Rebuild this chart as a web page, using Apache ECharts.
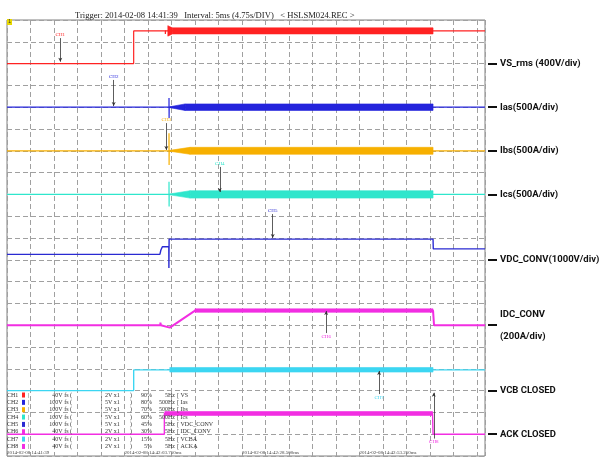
<!DOCTYPE html>
<html><head><meta charset="utf-8">
<script src="https://cdn.jsdelivr.net/npm/echarts@6/dist/echarts.min.js"></script>
<style>html,body{margin:0;padding:0;background:#fff}#c{width:603px;height:459px}</style>
</head><body><div id="c"></div>
<script>
// Recorder capture: time axis in seconds from trigger (4.75 s per division),
// vertical axis in screen divisions (0 = bottom, 20 = top).
const T_MAX = 96.6;
const SEC_PER_DIV = 4.75;

const stampTimes = [0, 23.75, 47.5, 71.25];
const stampLabels = ['2014-02-08 14:41:39', '2014-02-08 14:42:03.750ms', '2014-02-08 14:42:28.500ms', '2014-02-08 14:42:53.250ms'];

// channel traces [t, div]
const vsRms = [[0,18],[25.6,18],[25.6,19.5],[32.0,19.5],[32.0,19.36],[32.05,19.5],[96.6,19.5]];
const ias   = [[0,16],[31.5,16],[31.5,16.08],[31.55,16],[32.74,16],[32.74,16.42],[32.76,15.5],[32.78,16],[96.6,16]];
const ibs   = [[0,14],[31.6,14],[31.6,14.08],[31.65,14],[32.74,14],[32.74,14.8],[32.76,13.35],[32.78,14],[96.6,14]];
const ics   = [[0,12],[31.6,12],[31.6,12.08],[31.65,12],[32.74,12],[32.74,12.58],[32.76,11.44],[32.78,12],[96.6,12]];
const vdc   = [[0,9.25],[30.9,9.25],[31.1,9.45],[31.4,9.6],[32.7,9.6],[32.72,8.62],[32.76,9.95],[86.1,9.95],[86.15,9.5],[96.6,9.5]];
const idc   = [[0,6],[31.0,6],[31.0,6.12],[31.1,6],[32.9,5.89],[38,6.67],[86.1,6.67],[86.3,6.0],[96.6,6.0]];
const vcb   = [[0,3],[25.6,3],[25.6,3.95],[96.6,3.95]];
const ack   = [[0,1],[31.8,1],[31.8,1.95],[86.0,1.95],[86.1,1.0],[96.6,1.0]];

// oscillation envelopes [t, low, high]
const vsRmsBand = [[32.5,19.26,19.74],[33.4,19.36,19.64],[86.1,19.36,19.64]];
const iasBand   = [[32.9,15.98,16.02],[36.0,15.85,16.15],[86.1,15.85,16.15]];
const ibsBand   = [[32.9,13.98,14.02],[37.0,13.84,14.16],[86.1,13.84,14.16]];
const icsBand   = [[32.9,11.98,12.02],[37.0,11.83,12.17],[86.1,11.83,12.17]];
const idcBand   = [[38.0,6.59,6.75],[86.1,6.59,6.75]];
const vcbBand   = [[32.9,3.85,4.06],[86.1,3.85,4.06]];
const ackBand   = [[31.9,1.86,2.04],[86.0,1.86,2.04]];

// channel cursors: time, label end, trace end
const cursorNames = ['CH1','CH2','CH3','CH4','CH5','CH6','CH7','CH8'];
const cursorT     = [10.77, 21.56, 32.2, 43.0, 53.7, 64.5, 75.2, 86.25];
const cursorFrom  = [19.17, 17.25, 15.27, 13.26, 11.1, 5.64, 2.84, 0.8];
const cursorTo    = [18.09, 16.05, 14.04, 12.11, 10.0, 6.65, 3.9, 2.9];

// right-hand channel captions
const captionLevels = [18, 16, 14, 12, 9, 6, 3, 1];
const captionTexts  = ['VS_rms (400V/div)', 'Ias(500A/div)', 'Ibs(500A/div)', 'Ics(500A/div)', 'VDC_CONV(1000V/div)', 'IDC_CONV\n(200A/div)', 'VCB CLOSED', 'ACK CLOSED'];

// channel setup table
const tableRange = ['40V fs (', '100V fs (', '100V fs (', '100V fs (', '100V fs (', '40V fs (', '40V fs (', '40V fs ('];
const tableScale = ['2V x1', '5V x1', '5V x1', '5V x1', '5V x1', '2V x1', '2V x1', '2V x1'];
const tablePos   = ['90%', '80%', '70%', '60%', '45%', '30%', '15%', '5%'];
const tableFreq  = ['5Hz', '500Hz', '500Hz', '500Hz', '5Hz', '5Hz', '5Hz', '5Hz'];
const tableTag   = ['VS', 'Ias', 'Ibs', 'Ics', 'VDC_CONV', 'IDC_CONV', 'VCBA', 'ACKA'];

const colors = ['#ff2222', '#2424dc', '#f7b000', '#2fe6cc', '#2a2ad2', '#f22ee2', '#3cd6f2', '#f22ee2'];

const traces = [vsRms, ias, ibs, ics, vdc, idc, vcb, ack];
const bands = [vsRmsBand, iasBand, ibsBand, icsBand, null, idcBand, vcbBand, ackBand];
const traceWidths = [1.2, 1.2, 1.2, 1.2, 1.4, 2, 1.4, 1.4];

// envelope polygon between consecutive envelope samples
function bandRenderer(color) {
  return function (params, api) {
    const a0 = api.coord([api.value(0), api.value(1)]);
    const a1 = api.coord([api.value(0), api.value(2)]);
    const b0 = api.coord([api.value(3), api.value(4)]);
    const b1 = api.coord([api.value(3), api.value(5)]);
    return {
      type: 'polygon',
      shape: { points: [a0, b0, b1, a1] },
      style: { fill: color, stroke: color, lineWidth: 0.6 }
    };
  };
}

const series = [];
traces.forEach((d, i) => {
  series.push({
    type: 'line', data: d, symbol: 'none', silent: true,
    lineStyle: { color: colors[i], width: traceWidths[i] }, z: 3
  });
  const b = bands[i];
  if (b) {
    const segs = [];
    for (let k = 0; k + 1 < b.length; k++) {
      segs.push([b[k][0], b[k][1], b[k][2], b[k + 1][0], b[k + 1][1], b[k + 1][2]]);
    }
    series.push({
      type: 'custom', data: segs, silent: true, z: 4,
      encode: { x: [0, 3], y: [1, 2, 4, 5] },
      renderItem: bandRenderer(colors[i])
    });
  }
});

// cursor markers drawn on an empty carrier series
series.push({
  type: 'line', data: [], silent: true, z: 5,
  markLine: {
    silent: true, animation: false,
    symbol: ['none', 'arrow'], symbolSize: [3, 4],
    lineStyle: { color: '#333', width: 0.8, type: 'solid' },
    label: { show: true, position: 'start', distance: 1, fontSize: 5, fontFamily: 'Liberation Serif', formatter: p => p.name },
    data: cursorNames.map((n, i) => [
      { name: n, coord: [cursorT[i], cursorFrom[i]], label: { color: colors[i] } },
      { coord: [cursorT[i], cursorTo[i]] }
    ])
  }
});

// setup table as text rows
const graphics = [];
const rowY0 = 395, rowStep = 7.35;
const tStyle = { fontSize: 6, fontFamily: 'Liberation Serif', fill: '#333' };
for (let i = 0; i < 8; i++) {
  const y = rowY0 + i * rowStep;
  const mk = (x, text, align) => ({ type: 'text', x, y, style: Object.assign({ text, align: align || 'left', verticalAlign: 'middle' }, tStyle), z: 10 });
  graphics.push(mk(7, cursorNames[i]));
  graphics.push({ type: 'rect', shape: { x: 22, y: y - 2.5, width: 3, height: 5 }, style: { fill: colors[i] }, z: 10 });
  graphics.push(mk(28, '|'));
  graphics.push(mk(72, tableRange[i], 'right'));
  graphics.push(mk(101, '|'));
  graphics.push(mk(105, tableScale[i]));
  graphics.push(mk(130, ')'));
  graphics.push(mk(152, tablePos[i], 'right'));
  graphics.push(mk(175, tableFreq[i], 'right'));
  graphics.push(mk(177, '[ ' + tableTag[i]));
}
// channel-1 marker box in the corner
graphics.push({ type: 'rect', shape: { x: 7, y: 19, width: 5, height: 6 }, style: { fill: '#e8d800' }, z: 10 });
graphics.push({ type: 'text', x: 8.2, y: 22, style: { text: '1', fontSize: 5, fill: '#333', verticalAlign: 'middle' }, z: 11 });

const chart = echarts.init(document.getElementById('c'), null, { renderer: 'canvas' });
chart.setOption({
  animation: false,
  backgroundColor: '#fff',
  title: {
    text: 'Trigger: 2014-02-08 14:41:39   Interval: 5ms (4.75s/DIV)   < HSLSM024.REC >',
    left: 70, top: 6,
    textStyle: { fontFamily: 'Liberation Serif', fontSize: 8.6, fontWeight: 'normal', color: '#222' }
  },
  grid: {
    left: 7, right: 118, top: 20, bottom: 3, outerBoundsMode: 'none',
    show: true, borderColor: '#808080', borderWidth: 1, backgroundColor: '#fff'
  },
  xAxis: {
    type: 'value', min: 0, max: T_MAX, interval: SEC_PER_DIV,
    axisLine: { show: false }, axisTick: { show: false },
    splitLine: { show: true, lineStyle: { type: [5, 3], color: '#a0a0a0', width: 1 } },
    axisLabel: {
      inside: true, margin: 1, align: 'left', fontSize: 5, fontFamily: 'Liberation Serif', color: '#444',
      showMaxLabel: false,
      formatter: v => {
        const k = stampTimes.findIndex(s => Math.abs(s - v) < 1e-6);
        return k >= 0 ? stampLabels[k] : '';
      }
    }
  },
  yAxis: [
    {
      type: 'value', min: 0, max: 20, interval: 1,
      axisLine: { show: false }, axisTick: { show: false }, axisLabel: { show: false },
      splitLine: { show: true, lineStyle: { type: [5, 3], color: '#a0a0a0', width: 1 } }
    },
    {
      type: 'value', position: 'right', min: 0, max: 20, interval: 1, offset: 3,
      axisLine: { show: false }, splitLine: { show: false },
      axisTick: { show: true, customValues: captionLevels, length: 9, lineStyle: { color: '#111', width: 2 } },
      axisLabel: {
        customValues: captionLevels, margin: 12, fontSize: 9.5, fontWeight: 'bold', fontFamily: 'Roboto',
        color: '#111', lineHeight: 22, align: 'left',
        formatter: v => {
          const k = captionLevels.indexOf(Math.round(v));
          return k >= 0 ? captionTexts[k] : '';
        }
      }
    }
  ],
  series,
  graphic: graphics
});
</script>
</body></html>
